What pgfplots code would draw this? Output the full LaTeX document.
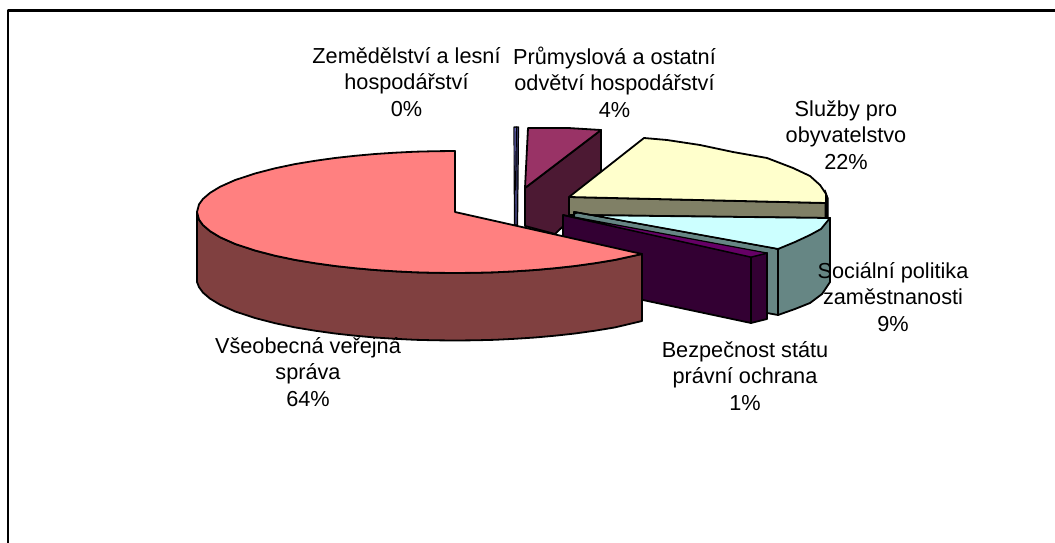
\documentclass[border=0pt]{standalone}
\usepackage{pgfplots}
\pgfplotsset{compat=1.18}
\usepackage{fontspec}
\setmainfont{Liberation Sans}
\definecolor{bigtop}{HTML}{FF8080}
\definecolor{bigside}{HTML}{804040}
\definecolor{cyantop}{HTML}{CCFFFF}
\definecolor{cyanside}{HTML}{668684}
\definecolor{yeltop}{HTML}{FFFFCC}
\definecolor{yelside}{HTML}{808066}
\definecolor{pintop}{HTML}{993366}
\definecolor{pinside}{HTML}{4C1933}
\definecolor{purtop}{HTML}{660066}
\definecolor{purside}{HTML}{330033}
\definecolor{blutop}{HTML}{7070D0}
\definecolor{bluside}{HTML}{3C3C70}
\tikzset{lbl/.style={align=center, inner sep=0pt, text=black, font=\fontsize{21.7}{26.5}\selectfont}}
\begin{document}
\begin{tikzpicture}
\begin{axis}[
  scale only axis, width=1055pt, height=543pt,
  xmin=0, xmax=1055, ymin=0, ymax=543, y dir=reverse,
  hide axis,
  every axis plot/.append style={line join=round, line cap=round},
]
% full canvas extent
\addplot[draw=white, line width=0pt, fill=white] coordinates {(0,0) (1055,0) (1055,543) (0,543) (0,0)};
% frame
\addplot[draw=black, line width=2.2pt, line cap=butt] coordinates {(8,543) (8,10.5) (1055,10.5)};
% Zemedelstvi sliver
\addplot[draw=black, line width=1.2pt, fill=bluside] coordinates {(514,127) (518.5,127) (518,180) (517.5,225) (514.5,225) (514,127)};
\addplot[draw=none, fill=blutop] coordinates {(514.6,128) (516.4,128) (515.8,180) (514.8,180) (514.6,128)};
\addplot[draw=black, line width=1.2pt] coordinates {(516.4,127) (515.6,190)};
% Prumyslova
\addplot[draw=black, line width=1.8pt, fill=pinside] coordinates {(525,188) (601,130) (601,190) (555,234) (525,226) (525,188)};
\addplot[draw=black, line width=1.8pt, fill=pintop] coordinates {(528,128) (568,128) (601,130) (525,188) (528,128)};
% Sluzby
\addplot[draw=black, line width=1.8pt, fill=yelside] coordinates {(569,197) (826,203) (826,218) (569,215) (569,197)};
\addplot[draw=black, fill=black, line width=1pt] coordinates {(825,190) (828,198) (828,218) (825,218) (825,190)};
\addplot[draw=black, line width=1.8pt, fill=yeltop] coordinates {(569,197) (644,138) (667,140) (700,145) (733,152) (767,158) (793,168) (810,176) (820,185) (826,194) (826,203) (569,197)};
% Socialni
\addplot[draw=black, line width=1.8pt, fill=cyanside] coordinates {(574,212) (778,249) (778,315) (574,278) (574,212)};
\addplot[draw=black, line width=1.8pt, fill=cyanside] coordinates {(778,249) (830,218) (830,282) (822,294) (810,303) (795,309) (778,315) (778,249)};
\addplot[draw=black, line width=1.8pt, fill=cyantop] coordinates {(574,212) (578,215) (830,218) (821,229) (810,235) (795,242) (778,249) (574,212)};
\addplot[draw=cyanside, line width=3pt] coordinates {(577,215) (775,251)};
\addplot[draw=black, line width=1pt] coordinates {(574,212) (778,249)};
% Bezpecnost
\addplot[draw=black, line width=1.8pt, fill=purside] coordinates {(563,215) (751,257) (751,323) (563,283) (563,215)};
\addplot[draw=black, line width=1.8pt, fill=purside] coordinates {(751,257) (767,253) (767,319) (751,323) (751,257)};
\addplot[draw=black, line width=1.2pt, fill=purtop] coordinates {(563,215) (767,253) (751,257) (563,215)};
% Vseobecna side
\addplot[draw=black, line width=1.8pt, fill=bigside] coordinates {(197,212) (199,219.6) (203,225.1) (210,231.1) (220,237.2) (235,243.9) (255,250.5) (275,255.7) (295,259.9) (315,263.2) (335,266) (355,268.2) (375,270) (395,271.3) (415,272.3) (435,272.8) (455,273) (475,272.8) (495,272.3) (515,271.3) (535,270) (555,268.2) (575,266) (595,263.2) (615,259.9) (642,254) (642,321) (615,327.4) (595,330.7) (575,333.5) (555,335.7) (535,337.5) (515,338.8) (495,339.8) (475,340.3) (455,340.5) (435,340.3) (415,339.8) (395,338.8) (375,337.5) (355,335.7) (335,333.5) (315,330.7) (295,327.4) (275,323.2) (255,318) (235,311.4) (220,304.7) (210,298.6) (203,292.6) (199,287.1) (197,282) (197,212)};
% Vseobecna top
\addplot[draw=black, line width=1.8pt, fill=bigtop] coordinates {(455,212) (455,151) (435,151.2) (415,151.7) (395,152.7) (375,154) (355,155.8) (335,158) (315,160.8) (295,164.1) (275,168.3) (255,173.5) (235,180.1) (220,186.8) (210,192.9) (203,198.9) (199,204.4) (197,212) (199,219.6) (203,225.1) (210,231.1) (220,237.2) (235,243.9) (255,250.5) (275,255.7) (295,259.9) (315,263.2) (335,266) (355,268.2) (375,270) (395,271.3) (415,272.3) (435,272.8) (455,273) (475,272.8) (495,272.3) (515,271.3) (535,270) (555,268.2) (575,266) (595,263.2) (615,259.9) (642,254) (455,212)};
% labels
\node[lbl] at (axis cs:406.5,82) {Zemědělství a lesní\\hospodářství\\0\%};
\node[lbl] at (axis cs:614.5,82) {Průmyslová a ostatní\\odvětví hospodářství\\4\%};
\node[lbl] at (axis cs:846,135) {Služby pro\\obyvatelstvo\\22\%};
\node[lbl] at (axis cs:893,297) {Sociální politika\\zaměstnanosti\\9\%};
\node[lbl] at (axis cs:745,376) {Bezpečnost státu\\právní ochrana\\1\%};
\node[lbl] at (axis cs:308,372) {Všeobecná veřejná\\správa\\64\%};
\end{axis}
\end{tikzpicture}
\end{document}
